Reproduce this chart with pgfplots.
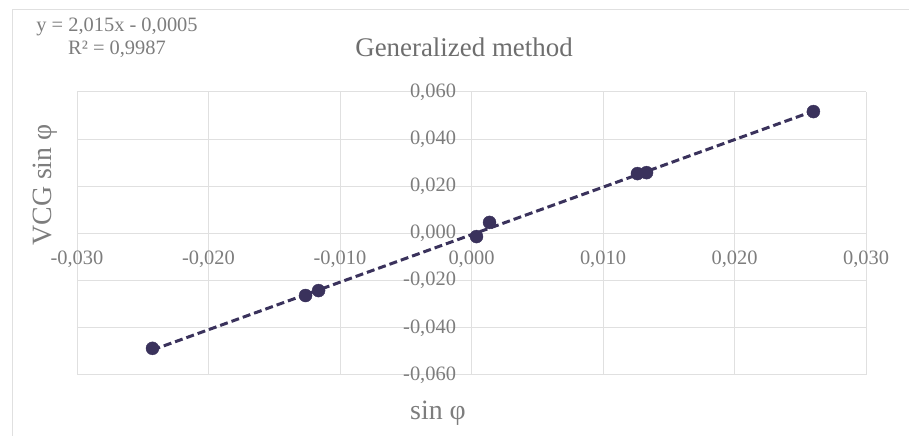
\documentclass[border=0pt]{standalone}
\usepackage{fontspec}
\setmainfont{Liberation Serif}
\usepackage{pgfplots}
\pgfplotsset{compat=1.18}
\definecolor{pt}{RGB}{58,50,92}
\definecolor{txt}{RGB}{125,125,125}
\definecolor{titlec}{RGB}{110,110,110}
\definecolor{gridc}{RGB}{224,224,224}
\begin{document}
\begin{tikzpicture}[x=1bp,y=1bp]
\draw[gridc, line width=1bp] (12,-5) -- (12,426) -- (915,426);
\begin{axis}[
    at={(77bp,61bp)}, anchor=south west,
    scale only axis, width=789bp, height=283bp,
    xmin=-0.03, xmax=0.03, ymin=-0.06, ymax=0.06,
    axis lines=middle,
    axis line style={gridc, line width=1bp, -},
    xtick={-0.03,-0.02,-0.01,0,0.01,0.02,0.03},
    ytick={-0.06,-0.04,-0.02,0,0.02,0.04,0.06},
    scaled ticks=false,
    grid=major,
    major grid style={gridc, line width=1bp},
    major tick length=0pt,
    hide obscured x ticks=false, hide obscured y ticks=false,
    /pgf/number format/assume math mode=true,
    /pgf/number format/use comma,
    /pgf/number format/fixed,
    /pgf/number format/fixed zerofill,
    /pgf/number format/precision=3,
    xticklabel style={font=\fontsize{20.5}{24}\selectfont, text=txt, yshift=-14bp},
    yticklabel style={font=\fontsize{20.5}{24}\selectfont, text=txt, xshift=-12bp},
    clip=false,
]
\addplot[only marks, mark=*, mark size=6.5bp, color=pt] coordinates {
    (-0.02426, -0.0487)
    (-0.01262, -0.0263)
    (-0.01163, -0.0242)
    (0.00038, -0.0013)
    (0.00137, 0.0047)
    (0.01262, 0.0254)
    (0.01331, 0.0258)
    (0.02600, 0.0517)
};
\addplot[pt, line width=3bp, dash pattern=on 8bp off 4bp] coordinates {
    (-0.02426, -0.04938) (0.02600, 0.05189)
};
\end{axis}
\node[font=\fontsize{27}{32}\selectfont, text=titlec] at (464,389) {Generalized method};
\node[font=\fontsize{20.5}{23}\selectfont, text=txt, align=center] at (117,398) {y = 2,015x - 0,0005\\R² = 0,9987};
\node[rotate=90, font=\fontsize{28}{32}\selectfont, text=txt] at (45,251) {VCG sin φ};
\node[font=\fontsize{28}{32}\selectfont, text=txt] at (438,23) {sin φ};
\pgfresetboundingbox
\useasboundingbox (0,0) rectangle (909,436);
\end{tikzpicture}
\end{document}
